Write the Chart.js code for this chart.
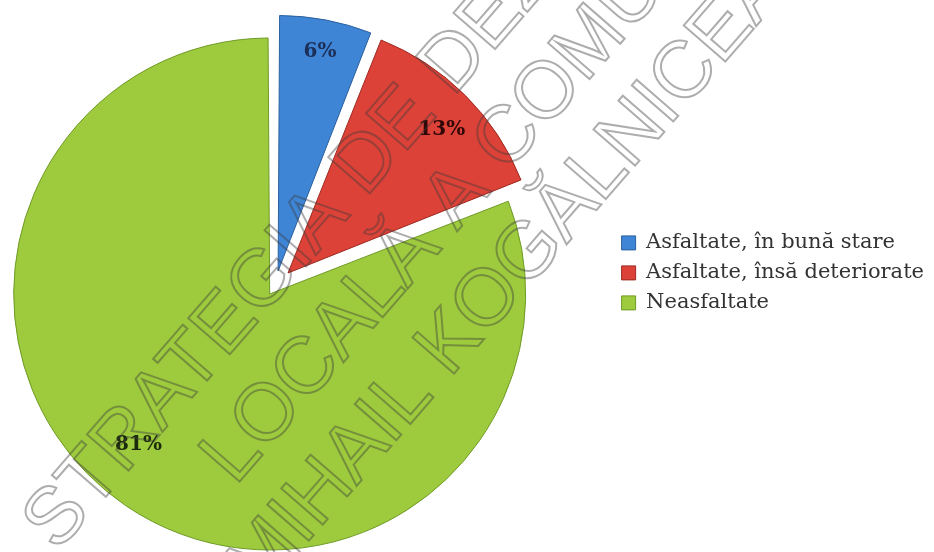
<!DOCTYPE html>
<html>
<head>
<meta charset="utf-8">
<script src="https://cdn.jsdelivr.net/npm/chart.js@4/dist/chart.umd.min.js"></script>
<style>
  html, body { margin: 0; padding: 0; background: #fff; }
  #wrap { position: relative; width: 934px; height: 552px; }
</style>
</head>
<body>
<div id="wrap"><canvas id="road-chart" width="934" height="552"></canvas></div>
<script>
// road network state (%)
var categories = ['Asfaltate, în bună stare', 'Asfaltate, însă deteriorate', 'Neasfaltate'];
var shares = [6, 13, 81];

var sliceColors = ['#3f85d6', '#dc4237', '#9ecb3d'];
var edgeColors = ['#2b5f9e', '#9c2a22', '#6e9a26'];
var labelColors = ['#1b2f57', '#2e0706', '#1c2a0c'];
// [angle shift in degrees, radius shift in px] for the % labels
var labelNudge = [[0, -32], [2.1, -41], [6.8, -56]];

var watermarkLines = ['STRATEGIA DE DEZVOLTARE', 'LOCALĂ A COMUNEI', 'MIHAIL KOGĂLNICEANU'];

// pie sits left of the middle of its area, so pull the area left a bit
var pieShift = {
  id: 'pieShift',
  afterLayout: function(chart) {
    chart.chartArea.left -= 62;
    chart.chartArea.width += 62;
  }
};

// percent labels inside each slice, placed from the arc geometry
var sliceLabels = {
  id: 'sliceLabels',
  afterDatasetsDraw: function(chart) {
    var ctx = chart.ctx;
    var meta = chart.getDatasetMeta(0);
    var total = shares.reduce((a, b) => a + b, 0);
    ctx.save();
    ctx.font = 'bold 20px "DejaVu Serif"';
    ctx.textAlign = 'center';
    ctx.textBaseline = 'middle';
    meta.data.forEach(function(arc, i) {
      var p = arc.getProps(['x', 'y', 'startAngle', 'endAngle', 'outerRadius', 'circumference']);
      var off = (arc.options.offset || 0) / 4;
      var fix = 1 - Math.sin(Math.min(Math.PI, p.circumference));
      var mid = (p.startAngle + p.endAngle) / 2;
      var a = mid + labelNudge[i][0] * Math.PI / 180;
      var d = p.outerRadius + off * fix + labelNudge[i][1];
      var x = p.x + Math.cos(mid) * off + Math.cos(a) * d;
      var y = p.y + Math.sin(mid) * off + Math.sin(a) * d;
      ctx.fillStyle = labelColors[i];
      ctx.fillText(Math.round(shares[i] / total * 100) + '%', x, y);
    });
    ctx.restore();
  }
};

// outlined diagonal watermark over the whole picture
var watermark = {
  id: 'watermark',
  afterDraw: function(chart) {
    var ctx = chart.ctx;
    ctx.save();
    ctx.translate(473, 169);
    ctx.rotate(-49 * Math.PI / 180);
    ctx.font = '80px "Liberation Sans"';
    ctx.textAlign = 'center';
    ctx.textBaseline = 'alphabetic';
    ctx.lineWidth = 2;
    ctx.strokeStyle = 'rgba(60,60,60,0.42)';
    watermarkLines.forEach(function(t, i) {
      ctx.strokeText(t, 0, (i - 1) * 91 + 29);
    });
    ctx.restore();
  }
};

var ctx = document.getElementById('road-chart');
var myChart = new Chart(ctx, {
  type: 'pie',
  data: {
    labels: categories,
    datasets: [{
      data: shares,
      backgroundColor: sliceColors,
      borderColor: edgeColors,
      borderWidth: 1,
      offset: [60, 72, 40],
      radius: 246,
      clip: false
    }]
  },
  options: {
    responsive: false,
    animation: false,
    layout: {
      padding: { left: 0, right: 0, top: 19.4, bottom: 0 }
    },
    plugins: {
      legend: {
        position: 'right',
        align: 'start',
        title: {
          display: true,
          text: '',
          font: { size: 10, lineHeight: 1 },
          padding: { top: 0, bottom: 194 }
        },
        labels: {
          boxWidth: 14,
          boxHeight: 14,
          padding: 9,
          color: '#333333',
          font: { family: '"DejaVu Serif"', size: 21 }
        }
      },
      tooltip: { enabled: false }
    }
  },
  plugins: [pieShift, sliceLabels, watermark]
});
</script>
</body>
</html>
